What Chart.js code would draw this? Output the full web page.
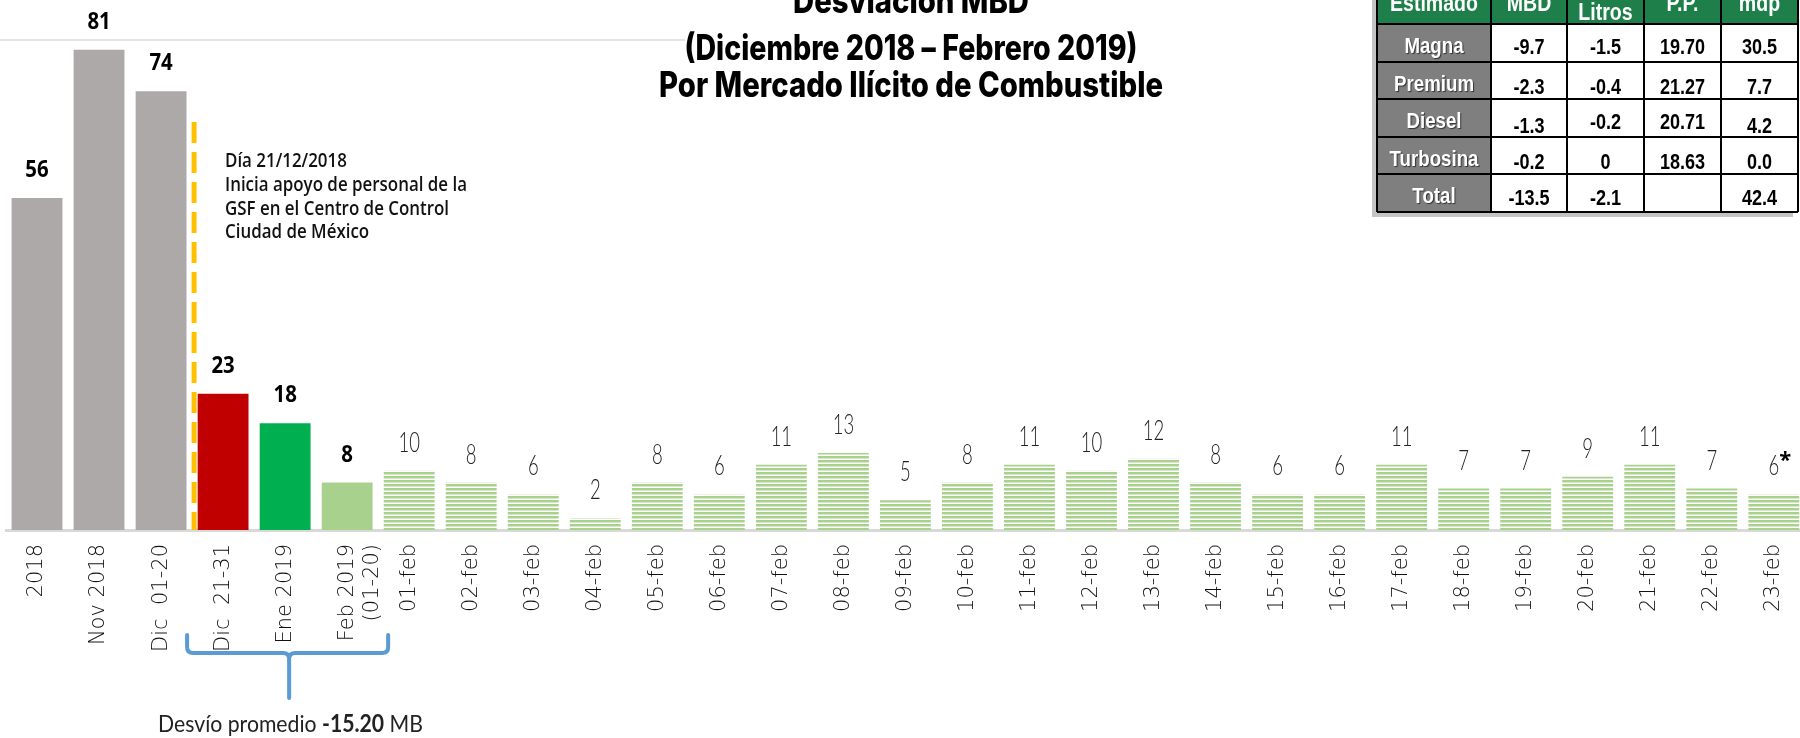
<!DOCTYPE html>
<html>
<head>
<meta charset="utf-8">
<script src="https://cdn.jsdelivr.net/npm/chart.js@4"></script>
<style>
html, body { margin: 0; padding: 0; background: #fff; overflow: hidden; width: 1800px; height: 738px; }
#wrap { position: relative; width: 1800px; height: 738px; overflow: hidden; }
canvas { position: absolute; left: 0; top: 0; }
</style>
</head>
<body>
<div id="wrap"><canvas id="chart" width="1813" height="738"></canvas></div>
<script>
// datos
const categorias = ['2018', 'Nov 2018', 'Dic  01-20', 'Dic  21-31', 'Ene 2019', ['Feb 2019', '(01-20)'],
  '01-feb', '02-feb', '03-feb', '04-feb', '05-feb', '06-feb', '07-feb', '08-feb', '09-feb', '10-feb',
  '11-feb', '12-feb', '13-feb', '14-feb', '15-feb', '16-feb', '17-feb', '18-feb', '19-feb', '20-feb',
  '21-feb', '22-feb', '23-feb'];
const valores = [56, 81, 74, 23, 18, 8,
  10, 8, 6, 2, 8, 6, 11, 13, 5, 8, 11, 10, 12, 8, 6, 6, 11, 7, 7, 9, 11, 7, 6];
const nota = '*'; // va junto al ultimo valor

const titulo = ['Desviación MBD', '(Diciembre 2018 – Febrero 2019)', 'Por Mercado Ilícito de Combustible'];
const anotacion = ['Día 21/12/2018', 'Inicia apoyo de personal de la', 'GSF en el Centro de Control', 'Ciudad de México'];
const desvio = ['Desvío promedio ', '-15.20', ' MB'];

const tablaEncabezado = ['Estimado', 'MBD', 'Litros', 'P.P.', 'mdp'];
const tablaFilas = ['Magna', 'Premium', 'Diesel', 'Turbosina', 'Total'];
const tablaMBD = ['-9.7', '-2.3', '-1.3', '-0.2', '-13.5'];
const tablaLitros = ['-1.5', '-0.4', '-0.2', '0', '-2.1'];
const tablaPP = ['19.70', '21.27', '20.71', '18.63', ''];
const tablaMdp = ['30.5', '7.7', '4.2', '0.0', '42.4'];

function rayado() {
  let c = document.createElement('canvas');
  c.width = 8; c.height = 4;
  let g = c.getContext('2d');
  g.fillStyle = '#ffffff'; g.fillRect(0, 0, 8, 4);
  g.fillStyle = '#a9d18e'; g.fillRect(0, 0, 8, 2);
  g.fillStyle = '#d5e9c7'; g.fillRect(0, 2, 8, 1);
  return g.createPattern(c, 'repeat');
}

const patron = rayado();
const colores = valores.map((v, i) => {
  if (i < 3) return '#ADA9A8';
  if (i === 3) return '#C00000';
  if (i === 4) return '#00B050';
  if (i === 5) return '#A9D18E';
  return patron;
});

// texto con escala horizontal
function texto(ctx, s, x, y, font, color, align, sx) {
  ctx.save();
  ctx.font = font;
  ctx.fillStyle = color;
  ctx.textAlign = 'left';
  ctx.textBaseline = 'alphabetic';
  let w = ctx.measureText(s).width * sx;
  let x0 = align === 'center' ? x - w / 2 : (align === 'right' ? x - w : x);
  ctx.translate(x0, y);
  ctx.scale(sx, 1);
  ctx.fillText(s, 0, 0);
  ctx.restore();
  return w;
}

function escala(ctx, s, font, ancho) {
  ctx.save();
  ctx.font = font;
  let w = ctx.measureText(s).width;
  ctx.restore();
  return ancho / w;
}

function dibujarTabla(ctx) {
  const cx = [1377, 1491, 1567, 1644, 1721, 1798];
  const fy = [-20, 24, 62, 99, 137, 174, 212];
  ctx.save();
  ctx.fillStyle = '#c4c4c4';
  ctx.fillRect(cx[0] - 5, fy[0], cx[5] - cx[0], fy[6] - fy[0] + 5);
  ctx.fillStyle = '#1E7F4B';
  ctx.fillRect(cx[0], fy[0], cx[5] - cx[0], fy[1] - fy[0]);
  ctx.fillStyle = '#7F7F7F';
  ctx.fillRect(cx[0], fy[1], cx[1] - cx[0], fy[6] - fy[1]);
  ctx.fillStyle = '#ffffff';
  ctx.fillRect(cx[1], fy[1], cx[5] - cx[1], fy[6] - fy[1]);
  ctx.strokeStyle = '#000';
  ctx.lineWidth = 2;
  ctx.beginPath();
  cx.forEach(x => { ctx.moveTo(x, fy[0]); ctx.lineTo(x, fy[6]); });
  fy.slice(1).forEach(y => { ctx.moveTo(cx[0], y); ctx.lineTo(cx[5], y); });
  ctx.stroke();
  ctx.restore();

  const fuente = 'bold 22px "Liberation Sans", Arial, sans-serif';
  const fuenteEnc = 'bold 23px "Liberation Sans", Arial, sans-serif';
  tablaEncabezado.forEach((t, j) => {
    let y = t === 'Litros' ? 20 : 11;
    texto(ctx, t, (cx[j] + cx[j + 1]) / 2, y, fuenteEnc, '#ffffff', 'center', 0.85);
  });
  const columnas = [tablaMBD, tablaLitros, tablaPP, tablaMdp];
  const bajos = [[0, 0, 0, 0], [2, 2, 2, 2], [4, 0, 0, 4], [2, 2, 2, 2], [1, 1, 1, 1]];
  tablaFilas.forEach((f, i) => {
    ctx.save();
    ctx.shadowColor = 'rgba(0,0,0,0.6)';
    ctx.shadowOffsetX = 1; ctx.shadowOffsetY = 1; ctx.shadowBlur = 1;
    texto(ctx, f, (cx[0] + cx[1]) / 2, fy[i + 1] + 29, fuente, '#ffffff', 'center', 0.85);
    ctx.restore();
    columnas.forEach((col, j) => {
      texto(ctx, col[i], (cx[j + 1] + cx[j + 2]) / 2, fy[i + 1] + 30 + bajos[i][j], fuente, '#000', 'center', 0.82);
    });
  });
}

const decoracion = {
  id: 'decoracion',
  beforeDraw(chart) {
    const ctx = chart.ctx;
    ctx.save();
    ctx.fillStyle = '#fff';
    ctx.fillRect(0, 0, chart.width, chart.height);
    ctx.strokeStyle = '#e4e4e4';
    ctx.lineWidth = 2;
    ctx.beginPath();
    ctx.moveTo(0, 40); ctx.lineTo(685, 40);
    ctx.stroke();
    ctx.restore();

    // titulo
    const ft = '800 35px Inter, "Open Sans", sans-serif';
    let s3 = escala(ctx, titulo[2], ft, 504);
    let s2 = escala(ctx, titulo[1], ft, 453);
    texto(ctx, titulo[0], 911, 13, ft, '#000', 'center', s3);
    texto(ctx, titulo[1], 911, 60, ft, '#000', 'center', s2);
    texto(ctx, titulo[2], 911, 97, ft, '#000', 'center', s3);

    dibujarTabla(ctx);

    // anotacion
    const fa = '600 20px "Open Sans", sans-serif';
    let sa = escala(ctx, anotacion[1], fa, 242);
    anotacion.forEach((t, i) => texto(ctx, t, 225, 167 + i * 23.8, fa, '#111', 'left', sa));
  },
  afterDatasetsDraw(chart) {
    const ctx = chart.ctx;
    const xs = chart.scales.x;
    const area = chart.chartArea;
    const barras = chart.getDatasetMeta(0).data;

    // linea punteada amarilla
    let xl = (xs.getPixelForTick(2) + xs.getPixelForTick(3)) / 2 + 2;
    ctx.save();
    ctx.strokeStyle = '#FFC000';
    ctx.lineWidth = 5;
    ctx.setLineDash([21, 9]);
    ctx.beginPath();
    ctx.moveTo(xl, 122);
    ctx.lineTo(xl, area.bottom);
    ctx.stroke();
    ctx.restore();

    // etiquetas de valor
    const fb = 'bold 24px "Open Sans", sans-serif';
    const fl = '300 28px Lato, "Open Sans", sans-serif';
    barras.forEach((b, i) => {
      let t = String(valores[i]);
      if (i < 6) {
        texto(ctx, t, b.x, b.y - 21, fb, '#000', 'center', 0.85);
      } else {
        let w = texto(ctx, t, b.x, b.y - 19, fl, '#222', 'center', 0.66);
        if (i === barras.length - 1) {
          texto(ctx, nota, b.x + w / 2, b.y - 27, 'bold 22px "Open Sans", sans-serif', '#000', 'left', 1);
        }
      }
    });
  },
  afterDraw(chart) {
    const ctx = chart.ctx;
    const xs = chart.scales.x;
    let L = xs.getPixelForTick(3) - 36;
    let R = xs.getPixelForTick(5) + 41;
    let M = xs.getPixelForTick(4) + 4;
    ctx.save();
    ctx.strokeStyle = '#5B9BD5';
    ctx.lineWidth = 4;
    ctx.lineCap = 'round';
    ctx.lineJoin = 'round';
    ctx.beginPath();
    ctx.moveTo(L, 635); ctx.lineTo(L, 647);
    ctx.quadraticCurveTo(L, 653, L + 6, 653);
    ctx.lineTo(M - 6, 653);
    ctx.quadraticCurveTo(M, 653, M, 659);
    ctx.lineTo(M, 698);
    ctx.moveTo(R, 635); ctx.lineTo(R, 647);
    ctx.quadraticCurveTo(R, 653, R - 6, 653);
    ctx.lineTo(M + 6, 653);
    ctx.quadraticCurveTo(M, 653, M, 659);
    ctx.stroke();
    ctx.restore();

    const fn = '24px Lato, "Open Sans", sans-serif';
    const fnb = 'bold 24px Lato, "Open Sans", sans-serif';
    ctx.save();
    ctx.font = fn;
    let w0 = ctx.measureText(desvio[0]).width + ctx.measureText(desvio[2]).width;
    ctx.font = fnb;
    w0 += ctx.measureText(desvio[1]).width;
    ctx.restore();
    let sd = 265 / w0;
    let x = 158;
    x += texto(ctx, desvio[0], x, 732, fn, '#222', 'left', sd);
    x += texto(ctx, desvio[1], x, 732, fnb, '#222', 'left', sd);
    texto(ctx, desvio[2], x, 732, fn, '#222', 'left', sd);
  }
};

let ctxChart = document.getElementById('chart').getContext('2d');

let grafica = new Chart(ctxChart, {
  type: 'bar',
  data: {
    labels: categorias,
    datasets: [{
      data: valores,
      backgroundColor: colores,
      borderWidth: 0,
      barPercentage: 0.82,
      categoryPercentage: 1
    }]
  },
  options: {
    responsive: false,
    animation: false,
    layout: { padding: { left: 6, right: 0, top: 0, bottom: 0 } },
    plugins: {
      legend: { display: false },
      tooltip: { enabled: false }
    },
    scales: {
      x: {
        grid: { display: false, drawTicks: false },
        border: { display: true, color: '#d9d9d9', width: 3 },
        ticks: {
          autoSkip: false,
          minRotation: 90,
          maxRotation: 90,
          padding: 14,
          color: '#111111',
          font: { family: '"DejaVu Sans"', size: 21, weight: '200' }
        },
        afterFit: (scale) => { scale.height = 208; }
      },
      y: { display: false, min: 0, max: 89.4 }
    }
  },
  plugins: [decoracion]
});
</script>
</body>
</html>
